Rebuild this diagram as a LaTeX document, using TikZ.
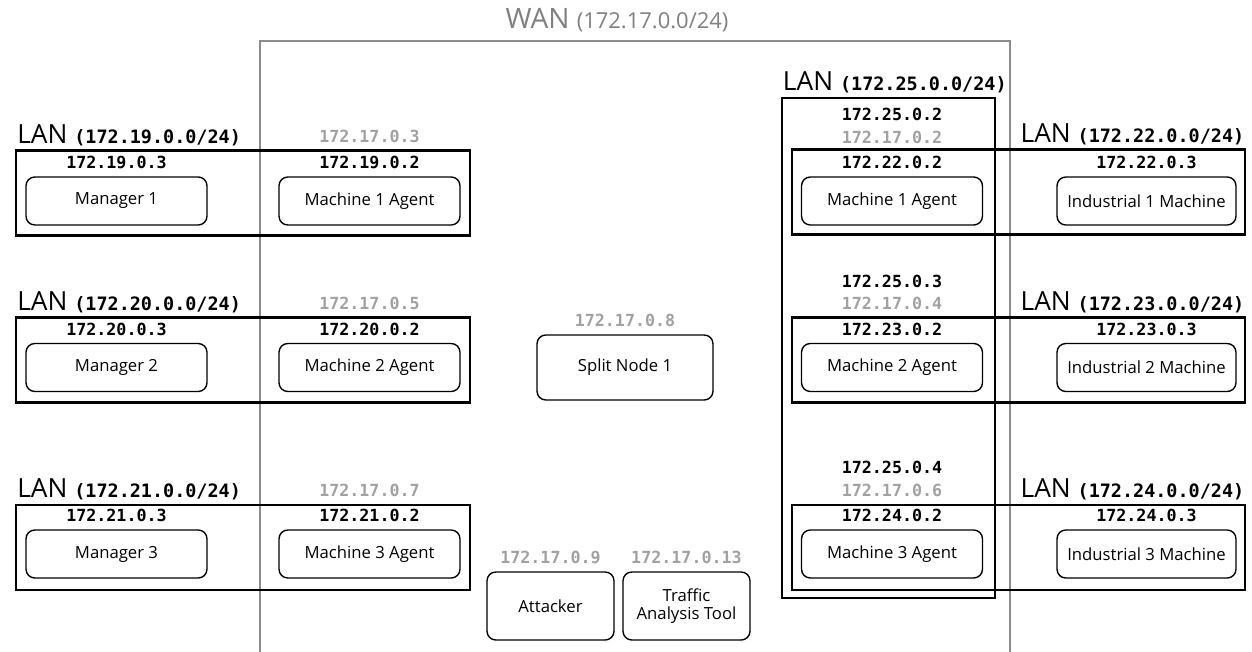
\documentclass[tikz,border=0pt]{standalone}
\usepackage{fontspec}
\setmainfont{Open Sans}
\newfontfamily\ipfont{DejaVu Sans Mono}
\usetikzlibrary{positioning}

\newcommand{\lannet}[1]{LAN {\ipfont\bfseries\fontsize{10.5}{12}\selectfont(#1)}}

\begin{document}
\begin{tikzpicture}[x=0.02cm, y=-0.02cm,
  every node/.style={inner sep=1pt},
  box/.style={draw, line width=0.8pt, rounded corners=5pt, align=center,
    font=\fontsize{9.5}{10.5}\selectfont, minimum width=3.62cm, minimum height=0.96cm},
  lanbox/.style={draw, line width=1.3pt, minimum width=9.07cm, minimum height=1.7cm},
  ip/.style={font=\ipfont\bfseries\fontsize{9.5}{11}\selectfont},
  wanip/.style={ip, text=black!37},
  lan/.style={font=\fontsize{15}{17}\selectfont}
]
\useasboundingbox (0,0) rectangle (1252,652);

% WAN
\node[text=black!50, font=\fontsize{16}{18}\selectfont] (wan) at (617,20) {WAN {\fontsize{12.5}{14}\selectfont(172.17.0.0/24)}};
\draw[black!45, line width=1pt] (260,652) |- (1010,41) -- (1010,652);

% left LANs
\node[lanbox] (lan19) at (243,193) {};
\node[lanbox] (lan20) at (243,360) {};
\node[lanbox] (lan21) at (243,547.5) {};
\node[lan, above right=1pt and 0pt of lan19.north west] (lbl19) {\lannet{172.19.0.0/24}};
\node[lan, above right=1pt and 0pt of lan20.north west] (lbl20) {\lannet{172.20.0.0/24}};
\node[lan, above right=1pt and 0pt of lan21.north west] (lbl21) {\lannet{172.21.0.0/24}};

\node[box] (mgr1) at (116.5,201) {Manager 1};
\node[box] (mgr2) at (116.5,367.5) {Manager 2};
\node[box] (mgr3) at (116.5,554) {Manager 3};
\node[ip, above=3pt of mgr1] (ipmgr1) {172.19.0.3};
\node[ip, above=3pt of mgr2] (ipmgr2) {172.20.0.3};
\node[ip, above=3pt of mgr3] (ipmgr3) {172.21.0.3};

\node[box] (agl1) at (369.5,201) {Machine 1 Agent};
\node[box] (agl2) at (369.5,367.5) {Machine 2 Agent};
\node[box] (agl3) at (369.5,554) {Machine 3 Agent};
\node[ip, above=3pt of agl1] (ipagl1) {172.19.0.2};
\node[ip, above=3pt of agl2] (ipagl2) {172.20.0.2};
\node[ip, above=3pt of agl3] (ipagl3) {172.21.0.2};
\node[wanip, above=5pt of ipagl1] (wagl1) {172.17.0.3};
\node[wanip, above=5pt of ipagl2] (wagl2) {172.17.0.5};
\node[wanip, above=5pt of ipagl3] (wagl3) {172.17.0.7};

% middle of the WAN
\node[box, minimum width=3.52cm, minimum height=1.3cm] (split) at (625,367.5) {Split Node 1};
\node[wanip, above=3pt of split] (wsplit) {172.17.0.8};
\node[box, minimum width=2.54cm, minimum height=1.36cm] (atk) at (550.5,606) {Attacker};
\node[wanip, above=3pt of atk] (watk) {172.17.0.9};
\node[box, minimum width=2.54cm, minimum height=1.36cm] (tat) at (686.5,606) {Traffic\\Analysis Tool};
\node[wanip, above=3pt of tat] (wtat) {172.17.0.13};

% right LANs
\node[draw, line width=1.3pt, minimum width=4.26cm, minimum height=10cm] (lan25) at (888.5,348) {};
\node[lan, above right=1pt and 0pt of lan25.north west] (lbl25) {\lannet{172.25.0.0/24}};
\node[lanbox] (lan22) at (1018.5,192) {};
\node[lanbox] (lan23) at (1018.5,360) {};
\node[lanbox] (lan24) at (1018.5,547.5) {};
\node[lan, above left=1pt and 0pt of lan22.north east] (lbl22) {\lannet{172.22.0.0/24}};
\node[lan, above left=1pt and 0pt of lan23.north east] (lbl23) {\lannet{172.23.0.0/24}};
\node[lan, above left=1pt and 0pt of lan24.north east] (lbl24) {\lannet{172.24.0.0/24}};

\node[box] (agr1) at (892,201) {Machine 1 Agent};
\node[box] (agr2) at (892,367.5) {Machine 2 Agent};
\node[box] (agr3) at (892,554) {Machine 3 Agent};
\node[ip, above=3pt of agr1] (ipagr1) {172.22.0.2};
\node[ip, above=3pt of agr2] (ipagr2) {172.23.0.2};
\node[ip, above=3pt of agr3] (ipagr3) {172.24.0.2};
\node[wanip, above=5pt of ipagr1] (wagr1) {172.17.0.2};
\node[wanip, above=5pt of ipagr2] (wagr2) {172.17.0.4};
\node[wanip, above=5pt of ipagr3] (wagr3) {172.17.0.6};
\node[ip, above=3pt of wagr1] (sagr1) {172.25.0.2};
\node[ip, above=3pt of wagr2] (sagr2) {172.25.0.3};
\node[ip, above=3pt of wagr3] (sagr3) {172.25.0.4};

\node[box, minimum width=3.58cm] (ind1) at (1146.5,201) {Industrial 1 Machine};
\node[box, minimum width=3.58cm] (ind2) at (1146.5,367.5) {Industrial 2 Machine};
\node[box, minimum width=3.58cm] (ind3) at (1146.5,554) {Industrial 3 Machine};
\node[ip, above=3pt of ind1] (ipind1) {172.22.0.3};
\node[ip, above=3pt of ind2] (ipind2) {172.23.0.3};
\node[ip, above=3pt of ind3] (ipind3) {172.24.0.3};

\end{tikzpicture}
\end{document}
